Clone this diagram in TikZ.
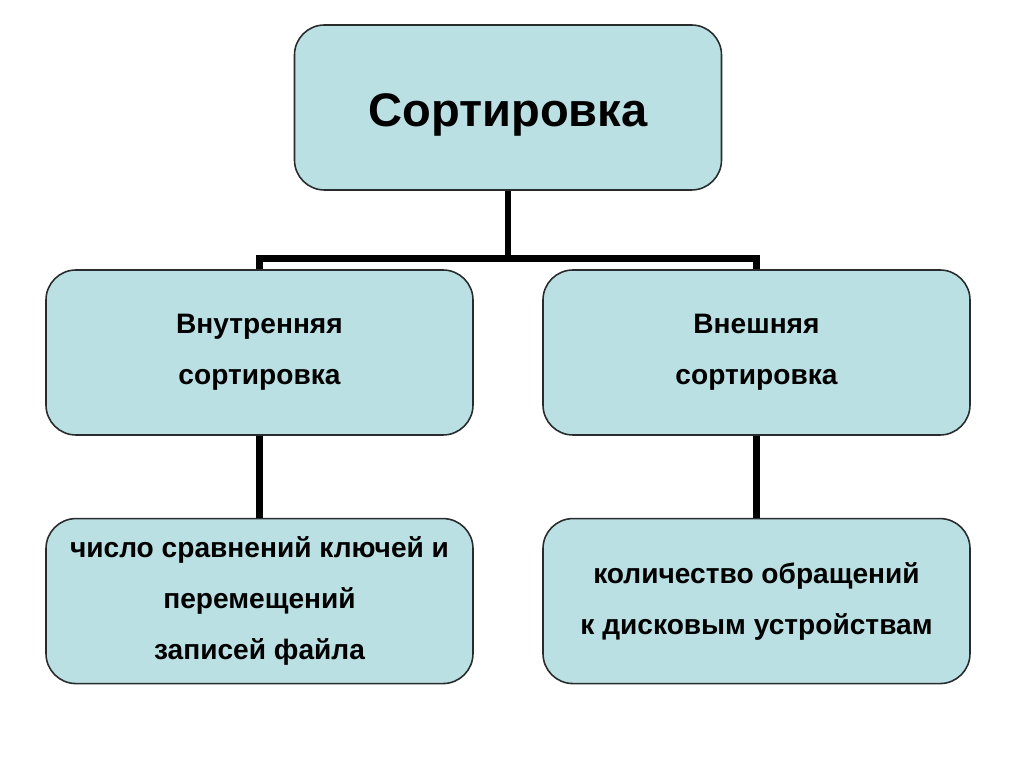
\documentclass[tikz,border=0pt]{standalone}
\usepackage{fontspec}
\setmainfont{Liberation Sans}
\usetikzlibrary{positioning}
\definecolor{boxfill}{RGB}{187,224,227}
\definecolor{boxline}{RGB}{40,44,44}
\tikzset{
  blk/.style={draw=boxline, fill=boxfill, line width=0.9pt, rounded corners=0.6cm,
              minimum width=8.54cm, minimum height=3.3cm, align=center, inner sep=0pt},
  ttl/.style={font=\fontsize{26.8}{32}\selectfont\bfseries},
  sub/.style={font=\fontsize{16}{29}\selectfont\bfseries},
  lnk/.style={line width=3.8pt, black},
}

\begin{document}
\begin{tikzpicture}
    \useasboundingbox[fill=white] (0,0) rectangle (20.48,-15.34);
    % boxes
    \node[blk, ttl] (sort) at (10.16,-2.15) {\raisebox{-1.5pt}[\height][0pt]{Сортировка}};
    \node[blk, sub] (intl) at (5.19,-7.05) {Внутренняя\\сортировка};
    \node[blk, sub] (extl) at (15.13,-7.05) {Внешняя\\сортировка};
    \node[blk, sub, below=1.64cm of intl] (intc) {число сравнений ключей и\\перемещений\\записей файла};
    \node[blk, sub, below=1.64cm of extl] (extc) {количество обращений\\к дисковым устройствам};
    % links
    \draw[lnk] (sort.south) -- ++(0,-1.36) coordinate (fork) -| (intl.north);
    \draw[lnk] (fork) -| (extl.north);
    \draw[lnk] (intl) -- (intc);
    \draw[lnk] (extl) -- (extc);
  \end{tikzpicture}
\end{document}
